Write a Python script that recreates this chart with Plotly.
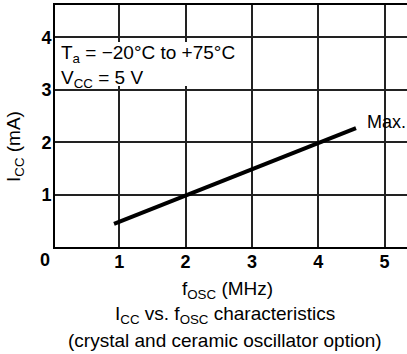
import plotly.graph_objects as go

# Data
freq_mhz = [0.92, 4.57]
icc_ma = [0.44, 2.27]
x_ticks = [1, 2, 3, 4, 5]
y_ticks = [1, 2, 3, 4]

W, H = 407, 354
L, R, T, B = 55, 0, 5, 107
pw, ph = W - L - R, H - T - B

def px(x):
    return (x - L) / pw

def py(y):
    return (H - B - y) / ph

FONT = "Liberation Sans, Arial, sans-serif"
FS = 19

fig = go.Figure()
fig.add_trace(go.Scatter(x=freq_mhz, y=icc_ma, mode="lines",
                         line=dict(color="black", width=4), showlegend=False,
                         hoverinfo="skip"))

fig.update_layout(
    width=W, height=H,
    margin=dict(l=L, r=R, t=T, b=B),
    paper_bgcolor="white", plot_bgcolor="white",
    font=dict(family=FONT, size=FS, color="black"),
    showlegend=False,
)
fig.update_xaxes(
    range=[0.03, 0.03 + pw / 66.3],
    tickvals=x_ticks, ticktext=[str(v) for v in x_ticks],
    showgrid=True, gridcolor="#222", gridwidth=1.5,
    showline=True, linecolor="black", linewidth=2, mirror=True,
    ticks="", ticklabelstandoff=-3,
    tickfont=dict(family=FONT, size=18, color="black", weight="bold"),
    zeroline=False,
)
fig.update_yaxes(
    range=[0, 4.62],
    tickvals=y_ticks, ticktext=[str(v) for v in y_ticks],
    showgrid=True, gridcolor="#222", gridwidth=1.5,
    showline=True, linecolor="black", linewidth=2,
    ticks="", ticklabelstandoff=-2,
    tickfont=dict(family=FONT, size=18, color="black", weight="bold"),
    zeroline=False,
)

# white patch behind the condition text (hides gridlines there)
fig.add_shape(type="rect", xref="paper", yref="paper",
              x0=px(57), x1=px(242), y0=py(86), y1=py(42),
              fillcolor="white", line=dict(width=0), layer="above")

ann = []
ann.append(dict(x=px(45), y=py(260), text="<b>0</b>", font=dict(size=18)))
ann.append(dict(x=px(15), y=py(147), text="I<sub>CC</sub> (mA)", textangle=-90))
ann.append(dict(x=px(227), y=py(290), text="f<sub>OSC</sub> (MHz)"))
ann.append(dict(x=px(225), y=py(315), text="I<sub>CC</sub> vs. f<sub>OSC</sub> characteristics"))
ann.append(dict(x=px(225), y=py(340), text="(crystal and ceramic oscillator option)"))
ann.append(dict(x=px(365), y=py(122), text="Max.", xanchor="left", font=dict(size=18)))
ann.append(dict(x=px(60), y=py(41), xanchor="left", yanchor="top", align="left",
                text="T<sub>a</sub> = \u221220\u00b0C to +75\u00b0C<br>V<sub>CC</sub> = 5 V",
                borderpad=0))
for a in ann:
    a.setdefault("xanchor", "center")
    a.setdefault("yanchor", "middle")
    a.update(xref="paper", yref="paper", showarrow=False)
fig.update_layout(annotations=ann)

fig.write_html("out.html", config={"displayModeBar": False},
               post_script="document.body.style.margin='0';document.body.style.overflow='hidden';")
